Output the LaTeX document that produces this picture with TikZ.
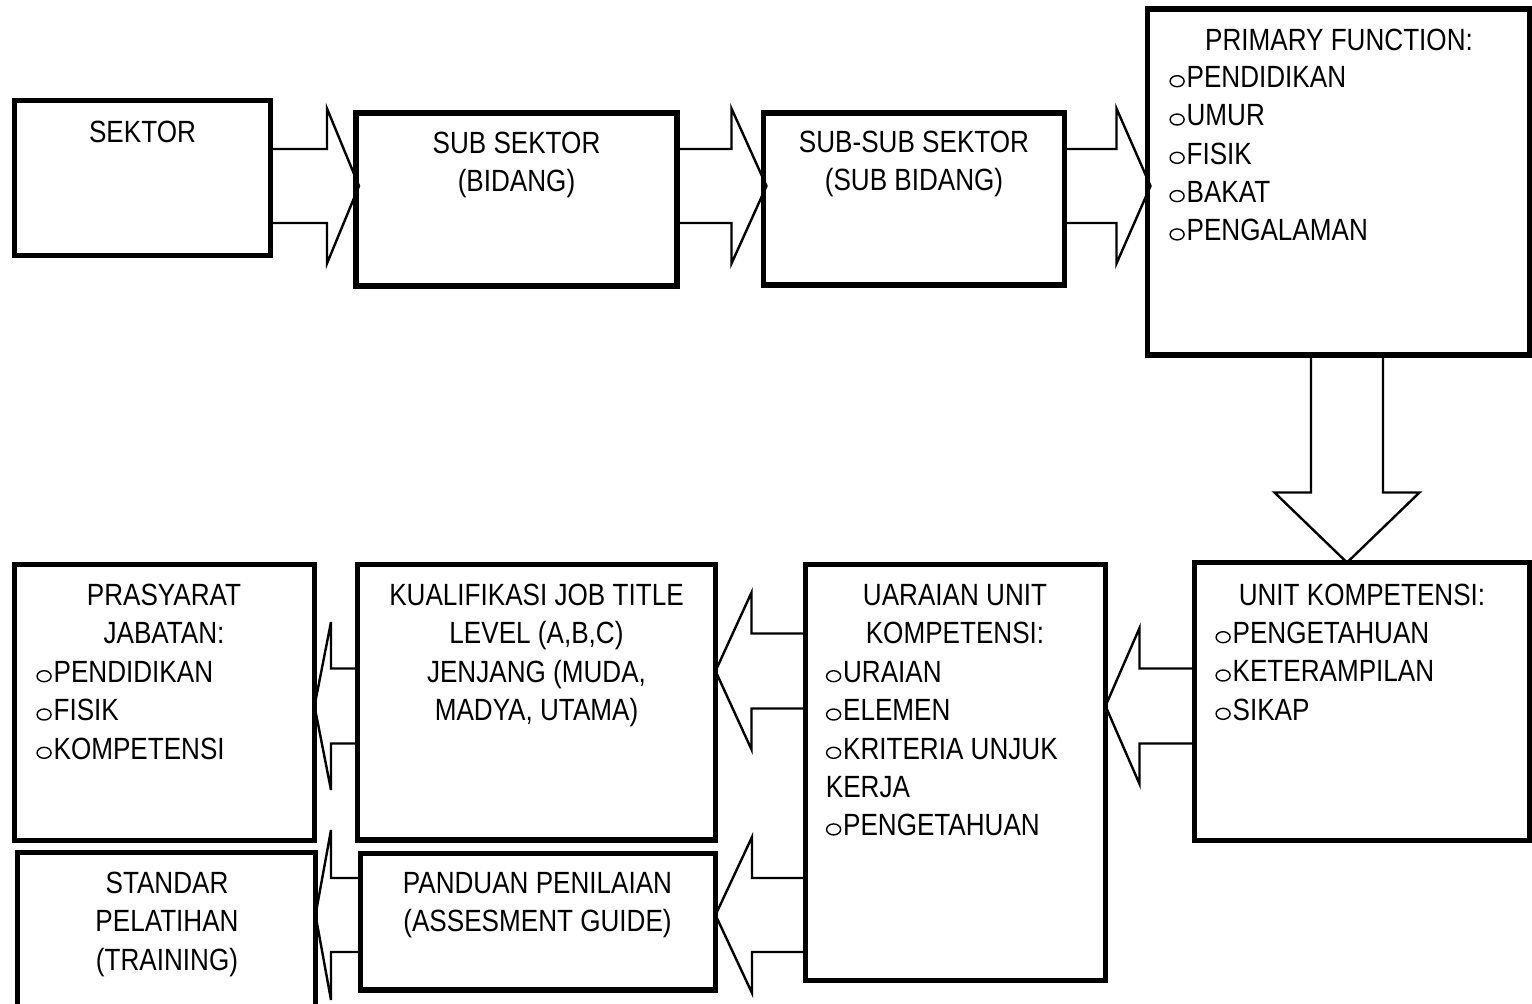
\documentclass[tikz,border=0pt]{standalone}
\usepackage{fontspec}
\setmainfont[FakeStretch=0.85]{Liberation Sans}
\usetikzlibrary{calc,fit}
\newcommand\bul{\tikz[baseline=0pt]\draw[line width=0.7pt] (3.85pt,3.1pt) ellipse [x radius=3.5pt, y radius=2.75pt];\hspace{0.9pt}}
\newcommand\fl{\rule{0pt}{12pt}}
\tikzset{
  box/.style={draw=black, line width=2.8pt, inner sep=0pt, outer sep=0pt},
  blk/.style={draw=black, line width=1.2pt, line join=miter},
  txt/.style={inner sep=0pt, anchor=north, align=center,
    font=\fontsize{15.35pt}{19.15pt}\selectfont},
  lst/.style={txt, anchor=north west, align=left}
}
% right-pointing block arrow: source, target, y centre, head length, shaft half, head half
\newcommand\rarrow[6]{%
  \path (0,#3) coordinate (yy);
  \path ($(#2.west |- yy)+(3,0)$) coordinate (tip);
  \draw[blk] ($(#1.east |- yy)+(0,-#5)$) -- ($(tip)+(-#4,-#5)$) -- ($(tip)+(-#4,-#6)$)
    -- (tip) -- ($(tip)+(-#4,#6)$) -- ($(tip)+(-#4,#5)$) -- ($(#1.east |- yy)+(0,#5)$);
}
% left-pointing block arrow
\newcommand\larrow[6]{%
  \path (0,#3) coordinate (yy);
  \path (#2.east |- yy) coordinate (tip);
  \draw[blk] ($(#1.west |- yy)+(0,-#5)$) -- ($(tip)+(#4,-#5)$) -- ($(tip)+(#4,-#6)$)
    -- (tip) -- ($(tip)+(#4,#6)$) -- ($(tip)+(#4,#5)$) -- ($(#1.west |- yy)+(0,#5)$);
}
\begin{document}
\begin{tikzpicture}[x=0.5pt,y=-0.5pt]
\useasboundingbox (0,0) rectangle (1532,1003);
\fill[white] (0,0) rectangle (1532,1003);
\clip (0,0) rectangle (1532,1003);

% boxes
\node[box, fit={(14.5,100.5)(270.5,255.5)}] (sektor) {};
\node[box, fit={(356,113)(677,286)}] (subsektor) {};
\node[box, fit={(763.5,113)(1064.5,285)}] (subsub) {};
\node[box, fit={(1147.5,9)(1529.5,355)}] (primary) {};
\node[box, fit={(1194.5,562.5)(1529.5,840.5)}] (unit) {};
\node[box, fit={(805.5,564.5)(1105.5,980.5)}] (uraian) {};
\node[box, fit={(357.5,564.5)(715.5,840)}] (kual) {};
\node[box, fit={(360.5,853.5)(715.5,990)}] (panduan) {};
\node[box, fit={(14.5,564.5)(314.5,840.5)}] (prasyarat) {};
\node[box, fit={(17.5,852.5)(315.5,1040)}] (standar) {};

% block arrows
\rarrow{sektor}{subsektor}{186}{32}{37}{77.5}
\rarrow{subsektor}{subsub}{186}{35}{37}{77.5}
\rarrow{subsub}{primary}{186}{34}{37}{77.5}

\path (1347,0) coordinate (xx);
\path (xx |- unit.north) coordinate (dtip);
\draw[blk] ($(xx |- primary.south)+(-36,0)$) -- ($(dtip)+(-36,-70)$) -- ($(dtip)+(-72.5,-70)$)
  -- (dtip) -- ($(dtip)+(72.5,-70)$) -- ($(dtip)+(36,-70)$) -- ($(xx |- primary.south)+(36,0)$);

\larrow{unit}{uraian}{706}{34}{37.5}{78}
\larrow{uraian}{kual}{671}{36}{37.5}{78.5}
\larrow{uraian}{panduan}{915}{36.5}{37}{78}
\larrow{kual}{prasyarat}{706}{16.5}{37.5}{84}
\larrow{panduan}{standar}{915}{15.5}{37}{85}

% texts
\node[txt] (tsektor) at (142.5,118) {\fl SEKTOR};
\node[txt] (tsubsektor) at (516.5,129) {\fl SUB SEKTOR\\(BIDANG)};
\node[txt] (tsubsub) at (914,128) {\fl SUB-SUB SEKTOR\\(SUB BIDANG)};
\node[txt] (tprimary) at (1339,26) {\fl PRIMARY FUNCTION:};
\node[lst] (lprimary) at (1169,63) {\fl\bul PENDIDIKAN\\\bul UMUR\\\bul FISIK\\\bul BAKAT\\\bul PENGALAMAN};
\node[txt] (tunit) at (1362,581) {\fl UNIT KOMPETENSI:};
\node[lst] (lunit) at (1215,619) {\fl\bul PENGETAHUAN\\\bul KETERAMPILAN\\\bul SIKAP};
\node[txt] (turaian) at (955,581) {\fl UARAIAN UNIT\\KOMPETENSI:};
\node[lst] (luraian) at (825.5,658) {\fl\bul URAIAN\\\bul ELEMEN\\\bul KRITERIA UNJUK\\KERJA\\\bul PENGETAHUAN};
\node[txt] (tkual) at (536.5,581) {\fl KUALIFIKASI JOB TITLE\\LEVEL (A,B,C)\\JENJANG (MUDA,\\MADYA, UTAMA)};
\node[txt] (tpanduan) at (537.5,869) {\fl PANDUAN PENILAIAN\\(ASSESMENT GUIDE)};
\node[txt] (tprasyarat) at (164,581) {\fl PRASYARAT\\JABATAN:};
\node[lst] (lprasyarat) at (36,658) {\fl\bul PENDIDIKAN\\\bul FISIK\\\bul KOMPETENSI};
\node[txt] (tstandar) at (167,869) {\fl STANDAR\\PELATIHAN\\(TRAINING)};
\end{tikzpicture}
\end{document}
